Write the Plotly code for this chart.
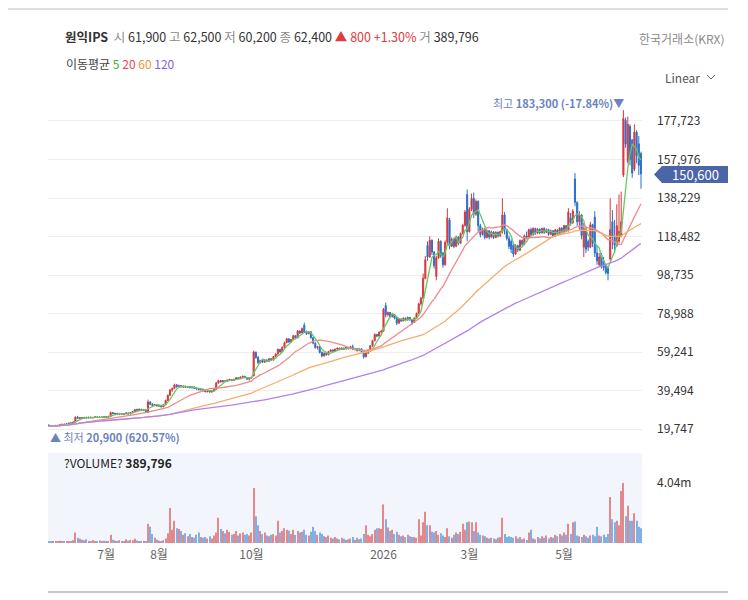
import numpy as np
import pandas as pd
import plotly.graph_objects as go

# 일봉 시가/고가/저가/종가 (천원 단위), 거래량 (백만주)
opens = [
    21.8, 21.4, 21.1, 21.4, 21.7, 21.4, 21.9, 22.2, 22.0, 22.5,
    22.8, 22.7, 23.3, 25.8, 25.2, 25.6, 25.2, 25.7, 25.4, 25.8,
    25.5, 25.7, 26.0, 25.6, 25.9, 25.7, 26.1, 25.8, 26.2, 28.2,
    27.6, 27.8, 27.3, 27.7, 27.2, 27.6, 28.0, 27.5, 28.1, 28.8,
    29.7, 29.4, 29.9, 29.3, 29.6, 28.3, 33.6, 32.4, 31.7, 32.3,
    31.5, 31.9, 31.1, 32.2, 34.4, 37.0, 39.8, 40.5, 42.4, 41.4,
    42.0, 41.3, 41.7, 41.1, 41.5, 40.9, 41.3, 40.7, 40.3, 39.9,
    40.2, 39.3, 38.9, 39.3, 38.7, 39.2, 40.0, 43.4, 44.6, 43.9,
    44.5, 44.1, 44.9, 45.2, 44.6, 45.3, 46.0, 45.6, 46.4, 46.8,
    46.1, 45.3, 45.8, 47.0, 59.0, 56.4, 53.8, 54.9, 54.0, 55.2,
    54.5, 55.8, 55.1, 56.9, 58.2, 60.6, 59.3, 61.7, 64.0, 66.0,
    64.4, 65.6, 67.6, 66.5, 70.0, 69.0, 73.0, 69.6, 68.6, 69.6,
    66.6, 63.8, 61.5, 62.0, 59.0, 57.2, 58.6, 57.8, 59.5, 60.3,
    59.7, 60.7, 61.2, 60.5, 61.3, 60.8, 61.6, 60.9, 62.0, 60.6,
    61.0, 59.9, 60.9, 59.4, 56.8, 58.6, 60.2, 62.4, 65.0, 68.2,
    67.4, 69.4, 70.0, 83.0, 78.4, 79.5, 77.3, 78.4, 76.6, 74.0,
    76.0, 75.2, 76.6, 75.6, 77.0, 75.8, 74.4, 76.6, 79.0, 84.0,
    86.8, 97.0, 114.0, 108.0, 116.5, 110.5, 98.0, 107.5, 116.0, 110.0,
    104.0, 115.5, 127.0, 113.5, 117.2, 113.5, 118.2, 115.0, 120.0, 124.2,
    140.0, 121.0, 132.5, 138.0, 130.0, 136.5, 124.0, 119.5, 122.4, 118.0,
    121.4, 118.2, 120.8, 118.0, 120.6, 118.8, 121.0, 129.5, 122.0, 117.5,
    116.0, 114.0, 109.5, 113.8, 111.5, 116.4, 114.5, 118.8, 117.8, 122.0,
    119.4, 122.6, 120.2, 122.2, 120.4, 122.6, 120.6, 122.0, 119.6, 121.4,
    118.8, 121.8, 120.0, 122.8, 121.0, 124.0, 121.6, 128.0, 125.5, 148.0,
    136.0, 126.0, 129.5, 113.0, 122.5, 116.0, 113.0, 124.5, 128.5, 110.0,
    104.0, 109.0, 106.0, 103.0, 102.0, 107.0, 126.0, 118.0, 114.0, 116.0,
    119.0, 150.0, 178.0, 157.0, 175.0, 168.0, 153.0, 172.0, 166.0, 161.0,
]
highs = [
    22.0, 21.6, 21.5, 21.8, 21.8, 22.0, 22.3, 22.5, 22.6, 22.9,
    23.2, 23.5, 26.2, 26.5, 25.9, 25.8, 25.9, 26.0, 25.9, 26.1,
    25.9, 26.2, 26.1, 26.0, 26.2, 26.3, 26.2, 26.4, 28.6, 28.5,
    28.0, 28.0, 27.9, 27.8, 27.9, 28.2, 28.1, 28.3, 29.0, 30.0,
    30.2, 30.1, 30.0, 29.8, 29.7, 34.8, 34.0, 33.0, 32.6, 32.5,
    32.2, 32.0, 32.5, 34.8, 37.5, 40.2, 41.0, 43.0, 42.8, 42.5,
    42.3, 42.0, 41.9, 41.8, 41.7, 41.6, 41.5, 41.2, 40.8, 40.5,
    40.3, 39.8, 39.6, 39.4, 39.5, 40.3, 43.8, 45.0, 44.9, 44.8,
    44.7, 45.1, 45.4, 45.3, 45.5, 46.2, 46.4, 46.6, 47.0, 47.0,
    46.3, 46.0, 46.5, 60.0, 59.6, 57.2, 55.2, 55.0, 55.5, 55.4,
    56.0, 56.2, 57.2, 58.5, 61.0, 60.8, 62.0, 64.5, 66.5, 66.2,
    65.9, 68.0, 67.8, 70.5, 70.3, 71.8, 74.3, 70.2, 70.0, 69.8,
    67.0, 64.2, 62.4, 62.2, 59.5, 59.0, 59.0, 59.8, 60.6, 60.5,
    61.0, 61.5, 61.4, 61.6, 61.5, 61.9, 61.8, 62.4, 63.0, 61.3,
    61.2, 61.2, 61.0, 59.6, 59.0, 60.5, 62.8, 65.5, 68.8, 68.6,
    69.8, 70.6, 81.8, 84.6, 80.0, 79.8, 78.8, 78.6, 77.2, 76.4,
    76.4, 77.0, 76.8, 77.4, 77.2, 76.0, 77.0, 79.5, 84.5, 87.5,
    99.5, 108.5, 116.0, 118.5, 117.0, 111.0, 108.5, 117.5, 116.5, 110.5,
    116.5, 133.0, 128.0, 118.0, 117.8, 119.0, 118.6, 120.5, 125.0, 132.0,
    142.6, 133.5, 140.5, 141.0, 137.5, 137.0, 125.0, 123.0, 123.0, 122.0,
    121.8, 121.5, 121.2, 121.2, 121.0, 121.5, 138.0, 131.0, 122.5, 119.0,
    117.0, 115.0, 114.5, 114.2, 117.0, 117.0, 119.5, 121.0, 122.5, 123.0,
    123.2, 123.0, 122.8, 122.6, 123.0, 123.2, 122.6, 122.4, 122.0, 121.8,
    122.4, 122.2, 123.2, 123.2, 124.5, 124.4, 133.0, 130.5, 132.5, 151.0,
    136.5, 131.5, 130.0, 125.5, 123.0, 117.0, 126.0, 125.0, 131.5, 114.0,
    110.0, 110.0, 108.0, 104.0, 103.0, 138.0, 132.0, 127.0, 135.0, 140.0,
    141.5, 183.3, 179.5, 180.0, 176.0, 168.5, 176.0, 173.0, 170.0, 162.0,
]
lows = [
    21.2, 20.9, 21.0, 21.2, 21.3, 21.3, 21.7, 21.9, 21.9, 22.3,
    22.5, 22.6, 23.2, 25.0, 24.9, 25.0, 25.1, 25.3, 25.2, 25.4,
    25.2, 25.5, 25.4, 25.4, 25.5, 25.6, 25.6, 25.7, 26.1, 27.3,
    27.2, 27.1, 27.2, 27.0, 27.1, 27.4, 27.3, 27.4, 28.0, 28.6,
    29.1, 29.2, 29.1, 28.9, 28.0, 27.9, 32.0, 31.4, 31.5, 31.3,
    31.0, 30.8, 31.0, 32.0, 34.2, 36.8, 38.9, 40.2, 41.0, 41.0,
    41.0, 40.8, 40.9, 40.7, 40.6, 40.5, 40.4, 40.0, 39.6, 39.5,
    39.0, 38.6, 38.5, 38.4, 38.5, 39.0, 39.8, 43.0, 43.6, 43.7,
    43.8, 44.0, 44.5, 44.3, 44.4, 45.1, 45.3, 45.5, 46.0, 45.8,
    45.0, 44.6, 45.4, 46.8, 55.8, 53.0, 53.5, 53.6, 53.8, 54.2,
    54.3, 54.8, 55.0, 56.7, 58.0, 58.9, 59.1, 61.5, 63.8, 63.9,
    64.2, 65.4, 66.0, 66.3, 68.5, 68.8, 69.0, 68.0, 68.4, 66.0,
    63.2, 61.0, 60.5, 58.5, 56.5, 57.0, 57.3, 57.6, 59.2, 59.3,
    59.5, 60.4, 60.2, 60.3, 60.4, 60.6, 60.6, 60.7, 60.2, 60.0,
    59.5, 59.7, 59.0, 55.8, 56.5, 58.3, 60.0, 62.0, 64.8, 66.8,
    67.2, 68.6, 69.6, 77.0, 77.4, 76.8, 77.0, 76.0, 73.0, 73.8,
    74.6, 75.0, 75.0, 75.4, 75.2, 73.2, 74.2, 76.4, 78.8, 83.0,
    86.5, 96.5, 106.0, 107.5, 109.0, 102.0, 96.0, 107.0, 107.5, 102.5,
    103.5, 114.0, 112.0, 113.0, 112.5, 113.0, 114.0, 114.8, 119.5, 123.5,
    116.0, 120.5, 131.5, 128.0, 129.0, 121.0, 118.0, 119.0, 117.0, 117.5,
    117.0, 117.8, 117.2, 117.6, 118.0, 118.4, 120.0, 119.5, 116.5, 112.0,
    110.0, 108.0, 109.0, 110.5, 111.0, 113.5, 114.0, 117.0, 117.4, 118.6,
    119.0, 119.4, 119.8, 119.6, 120.0, 119.8, 120.2, 118.8, 119.2, 118.0,
    118.4, 119.2, 119.6, 120.2, 120.6, 120.8, 121.0, 124.0, 125.0, 134.0,
    124.0, 122.0, 117.0, 108.0, 110.0, 111.0, 112.5, 113.0, 108.0, 104.0,
    103.0, 102.0, 101.0, 99.0, 96.0, 106.0, 112.0, 110.0, 113.0, 115.0,
    118.0, 149.0, 164.0, 156.0, 155.0, 148.6, 152.0, 156.0, 150.0, 143.0,
]
closes = [
    21.4, 21.1, 21.4, 21.6, 21.4, 21.9, 22.2, 22.0, 22.5, 22.8,
    22.7, 23.3, 25.8, 25.2, 25.6, 25.2, 25.7, 25.4, 25.8, 25.5,
    25.7, 26.0, 25.6, 25.9, 25.7, 26.1, 25.8, 26.2, 28.2, 27.6,
    27.8, 27.3, 27.7, 27.2, 27.6, 28.0, 27.5, 28.1, 28.8, 29.7,
    29.4, 29.9, 29.3, 29.6, 28.3, 33.6, 32.4, 31.7, 32.3, 31.5,
    31.9, 31.1, 32.2, 34.4, 37.0, 39.8, 40.5, 42.4, 41.4, 42.0,
    41.3, 41.7, 41.1, 41.5, 40.9, 41.3, 40.7, 40.3, 39.9, 40.2,
    39.3, 38.9, 39.3, 38.7, 39.2, 40.0, 43.4, 44.6, 43.9, 44.5,
    44.1, 44.9, 45.2, 44.6, 45.3, 46.0, 45.6, 46.4, 46.8, 46.1,
    45.3, 45.8, 46.2, 59.2, 56.4, 53.8, 54.9, 54.0, 55.2, 54.5,
    55.8, 55.1, 56.9, 58.2, 60.6, 59.3, 61.7, 64.0, 66.0, 64.4,
    65.6, 67.6, 66.5, 70.0, 69.0, 71.2, 69.6, 68.6, 69.6, 66.6,
    63.8, 61.5, 62.0, 59.0, 57.2, 58.6, 57.8, 59.5, 60.3, 59.7,
    60.7, 61.2, 60.5, 61.3, 60.8, 61.6, 60.9, 62.0, 60.6, 61.0,
    59.9, 60.9, 59.4, 56.8, 58.6, 60.2, 62.4, 65.0, 68.2, 67.4,
    69.4, 70.0, 81.2, 78.4, 79.5, 77.3, 78.4, 76.6, 74.0, 76.0,
    75.2, 76.6, 75.6, 77.0, 75.8, 74.4, 76.6, 79.0, 84.0, 86.8,
    97.0, 106.5, 108.0, 116.5, 110.5, 103.5, 107.5, 116.0, 108.5, 104.0,
    115.5, 128.0, 113.5, 117.2, 113.5, 118.2, 115.0, 120.0, 124.2, 131.0,
    121.0, 132.5, 138.0, 130.0, 136.5, 124.0, 119.5, 122.4, 118.0, 121.4,
    118.2, 120.8, 118.0, 120.6, 118.8, 121.0, 129.5, 122.0, 117.5, 113.5,
    112.0, 109.5, 113.8, 111.5, 116.4, 114.5, 118.8, 117.8, 122.0, 119.4,
    122.6, 120.2, 122.2, 120.4, 122.6, 120.6, 122.0, 119.6, 121.4, 118.8,
    121.8, 120.0, 122.8, 121.0, 124.0, 121.6, 131.0, 125.5, 131.5, 136.0,
    126.0, 129.5, 119.0, 122.5, 112.0, 113.0, 124.5, 115.0, 110.0, 106.0,
    108.0, 103.0, 102.5, 100.0, 99.5, 122.0, 118.0, 114.0, 124.0, 121.0,
    126.0, 179.0, 166.0, 176.0, 158.0, 151.0, 172.0, 160.0, 155.0, 150.6,
]
volumes = [
    0.12, 0.10, 0.08, 0.12, 0.09, 0.15, 0.11, 0.13, 0.10, 0.12,
    0.14, 0.18, 0.70, 0.35, 0.28, 0.22, 0.18, 0.25, 0.14, 0.12,
    0.18, 0.12, 0.10, 0.16, 0.14, 0.15, 0.10, 0.12, 0.55, 0.22,
    0.16, 0.12, 0.18, 0.14, 0.10, 0.25, 0.15, 0.20, 0.18, 0.28,
    0.16, 0.12, 0.14, 0.10, 0.12, 1.30, 1.10, 0.60, 0.35, 0.22,
    0.15, 0.12, 0.18, 0.30, 0.65, 2.35, 0.90, 1.50, 1.00, 0.95,
    0.80, 0.55, 0.65, 0.45, 0.60, 0.40, 0.35, 0.55, 0.70, 0.40,
    0.35, 0.40, 0.30, 0.45, 0.30, 0.50, 0.70, 1.70, 0.95, 0.80,
    0.65, 0.90, 0.75, 0.55, 0.60, 0.80, 0.50, 0.65, 0.70, 0.55,
    0.60, 0.50, 0.70, 3.70, 1.80, 1.20, 0.80, 0.60, 0.70, 0.50,
    0.45, 0.55, 0.60, 0.50, 1.50, 0.70, 0.80, 1.00, 0.90, 0.85,
    0.60, 0.90, 0.55, 0.80, 0.70, 0.75, 0.90, 0.55, 0.50, 0.75,
    1.10, 0.80, 0.55, 0.70, 0.60, 0.45, 0.40, 0.50, 0.35, 0.30,
    0.40, 0.30, 0.25, 0.35, 0.28, 0.20, 0.25, 0.30, 0.40, 0.22,
    0.35, 0.25, 0.30, 0.60, 1.20, 0.55, 0.45, 0.60, 0.90, 1.00,
    1.00, 0.95, 2.60, 1.60, 1.05, 0.80, 0.90, 0.60, 0.75, 0.55,
    0.45, 0.50, 0.40, 0.55, 0.45, 0.40, 0.40, 0.35, 1.60, 0.50,
    1.40, 2.10, 1.20, 1.20, 0.75, 0.70, 0.80, 0.55, 0.65, 0.50,
    0.40, 1.00, 0.45, 0.35, 0.55, 0.70, 0.60, 0.75, 1.30, 0.90,
    1.40, 1.45, 1.40, 0.80, 1.40, 0.70, 0.55, 0.50, 0.45, 0.35,
    0.30, 0.35, 0.30, 0.25, 0.35, 0.40, 1.70, 0.60, 0.40, 0.45,
    0.40, 0.35, 0.45, 0.30, 0.40, 0.25, 0.30, 0.20, 0.70, 0.90,
    0.30, 0.25, 0.40, 0.30, 0.45, 0.35, 0.50, 0.30, 0.40, 0.35,
    0.55, 0.45, 0.60, 0.50, 0.70, 0.55, 1.30, 0.60, 1.40, 1.45,
    0.50, 0.45, 0.40, 0.55, 0.45, 0.35, 0.50, 0.55, 0.45, 1.10,
    0.50, 0.45, 0.55, 0.40, 0.60, 3.10, 1.60, 1.40, 1.50, 1.20,
    3.50, 4.04, 1.80, 2.50, 1.50, 1.50, 2.00, 1.50, 1.10, 1.00,
]

month_pos = [26, 50, 92, 152, 191, 234]
month_labels = ['7월', '8월', '10월', '2026', '3월', '5월']

ma_periods = [5, 20, 60, 120]
ma_colors = ['#63c963', '#f08a8c', '#f6ae6e', '#b182ee']

RED, BLUE = '#d8363c', '#2b6fca'
VRED, VBLUE = '#e3898d', '#7fb1e4'
FONT = 'Noto Sans CJK KR'

o = np.array(opens) * 1000
h = np.array(highs) * 1000
l = np.array(lows) * 1000
c = np.array(closes) * 1000
v = np.array(volumes) * 1e6
idx = np.arange(len(c))

# 페이지 body 여백(8px) 만큼 그림을 줄여서 배치
W, H = 740, 592
ML, MR, MT, MB = 40, 106, 87, 57
# 참조 화면 픽셀 -> paper 좌표
def px(x):
    return (x - 48) / 594
def py(y):
    return (543 - y) / 448

fig = go.Figure()

fig.add_trace(go.Candlestick(
    x=idx, open=o, high=h, low=l, close=c,
    increasing=dict(line=dict(color=RED, width=1), fillcolor=RED),
    decreasing=dict(line=dict(color=BLUE, width=1), fillcolor=BLUE),
    whiskerwidth=0, xaxis='x', yaxis='y', hoverinfo='skip',
))

for n, col in zip(ma_periods, ma_colors):
    ma = pd.Series(c).rolling(n, min_periods=1).mean()
    fig.add_trace(go.Scatter(
        x=idx, y=ma, mode='lines', line=dict(color=col, width=1.3),
        xaxis='x', yaxis='y', hoverinfo='skip',
    ))

vol_colors = [VRED if cc >= oo else VBLUE for oo, cc in zip(o, c)]
fig.add_trace(go.Bar(
    x=idx, y=v, marker=dict(color=vol_colors, line=dict(width=0)),
    width=0.5, xaxis='x3', yaxis='y2', hoverinfo='skip',
))

xr = [-0.45, len(c) - 0.55]
top_val = 19747 + (429 - 95) * 512.9
bot_val = 19747 - (445 - 429) * 512.9

fig.update_layout(
    width=W, height=H,
    margin=dict(l=ML, r=MR, t=MT, b=MB),
    paper_bgcolor='white', plot_bgcolor='white',
    showlegend=False, hovermode=False,
    font=dict(family=FONT, size=12, color='#333'),
    xaxis=dict(domain=[0, 1], range=xr, anchor='y', showticklabels=False,
               showgrid=False, zeroline=False, rangeslider=dict(visible=False)),
    yaxis=dict(domain=[py(445), 1], range=[bot_val, top_val], side='right',
               tick0=0, dtick=19747, tickformat=',d', showgrid=True,
               gridcolor='#eeeeee', zeroline=False, ticks='',
               ticklabelstandoff=14, tickfont=dict(size=12, color='#333')),
    xaxis2=dict(domain=[0, 1], range=xr, anchor='y2', showticklabels=False,
                showgrid=True, gridcolor='white', gridwidth=1, tick0=0, dtick=1.5,
                zeroline=False),
    xaxis3=dict(range=xr, anchor='y2', overlaying='x2', tickvals=month_pos,
                ticktext=month_labels, showgrid=False, zeroline=False, ticks='',
                ticklabelstandoff=3, tickfont=dict(size=12, color='#666')),
    yaxis2=dict(domain=[0, py(453)], range=[0, 4.04e6 * 90 / 60], side='right',
                tickvals=[4.04e6], ticktext=['4.04m'], showgrid=False,
                zeroline=False, ticks='', ticklabelstandoff=14,
                tickfont=dict(size=12, color='#333')),
)

shapes = [
    dict(type='rect', xref='paper', yref='paper', x0=0, x1=1, y0=0, y1=py(453),
         fillcolor='#f2f6fc', line=dict(width=0), layer='below'),
    dict(type='line', xref='paper', yref='paper', x0=px(8), x1=px(728),
         y0=py(9), y1=py(9), line=dict(color='#bdbdbd', width=1.2)),
    dict(type='line', xref='paper', yref='paper', x0=px(48), x1=px(728),
         y0=py(592), y1=py(592), line=dict(color='#8c8c8c', width=1)),
    dict(type='path', xref='paper', yref='paper',
         path=f'M {px(707)},{py(75)} L {px(711)},{py(79)} L {px(715)},{py(75)}',
         line=dict(color='#666', width=1)),
    dict(type='path', xref='paper', yref='paper',
         path=(f'M {px(654)},{py(174.5)} L {px(662)},{py(166)} L {px(728)},{py(166)} '
               f'L {px(728)},{py(183)} L {px(662)},{py(183)} Z'),
         fillcolor='#4a65a8', line=dict(width=0)),
]
fig.update_layout(shapes=shapes)

G = "<span style='color:#8a8a8a'>"
header = (
    "<b>원익IPS</b>  " + G + "시</span> 61,900 " + G + "고</span> 62,500 "
    + G + "저</span> 60,200 " + G + "종</span> 62,400 "
    + "<span style='color:#e03a3e'>▲ 800 +1.30%</span> " + G + "거</span> 389,796"
)
ma_text = ("이동평균 <span style='color:#33b033'>5</span> "
           "<span style='color:#e8474f'>20</span> "
           "<span style='color:#f0903c'>60</span> "
           "<span style='color:#8a5fe0'>120</span>")

def note(text, x, y, anchor='left', size=12, color='#333'):
    fig.add_annotation(text=text, x=px(x), y=py(y), xref='paper', yref='paper',
                       xanchor=anchor, yanchor='middle', showarrow=False,
                       font=dict(family=FONT, size=size, color=color))

note(header, 63, 37, size=12.5, color='#333')
note(ma_text, 64, 63, size=12, color='#444')
note('한국거래소(KRX)', 727, 38, anchor='right', size=12, color='#8a8a8a')
note('Linear', 702, 77, anchor='right', size=12, color='#555')
note('최고 <b>183,300 (-17.84%)</b>▼', 626, 103, anchor='right', size=11, color='#6a84bf')
note('▲ 최저 <b>20,900 (620.57%)</b>', 48, 437, size=11, color='#6a84bf')
note('?VOLUME? <b>389,796</b>', 62, 462, size=12, color='#222')
note('150,600', 695, 174.5, anchor='center', size=13, color='white')

fig.write_html('out.html')
